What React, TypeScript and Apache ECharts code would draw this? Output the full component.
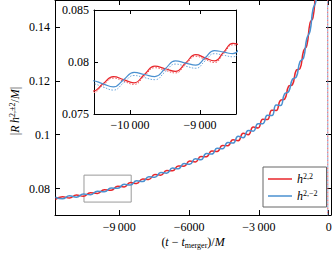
import React, { useEffect, useRef } from "react";
import * as echarts from "echarts";

// ---------- data ----------
const tMain = [
  -11740, -11440, -11140, -10840, -10540, -10240, -9940, -9640, -9350, -9060,
  -8790, -8520, -8255, -7990, -7730, -7470, -7215, -6960, -6710, -6460,
  -6215, -5970, -5730, -5490, -5255, -5020, -4790, -4560, -4335, -4110,
  -3890, -3670, -3455, -3240, -3035, -2830, -2635, -2440, -2255, -2070,
  -1895, -1720, -1555, -1390, -1235, -1080, -940, -800, -675, -550,
  -430, -300, -150, -45,
];
const redMain = [
  0.0760, 0.0770, 0.0765, 0.0776, 0.0772, 0.0785, 0.0782, 0.0796, 0.0794, 0.0809,
  0.0806, 0.0823, 0.0819, 0.0836, 0.0834, 0.0852, 0.0850, 0.0867, 0.0866, 0.0884,
  0.0883, 0.0902, 0.0899, 0.0919, 0.0918, 0.0940, 0.0938, 0.0960, 0.0959, 0.0981,
  0.0978, 0.1005, 0.1000, 0.1029, 0.1025, 0.1057, 0.1056, 0.1091, 0.1090, 0.1128,
  0.1132, 0.1180, 0.1186, 0.1240, 0.1245, 0.1311, 0.1331, 0.1415, 0.1435, 0.1525,
  0.1565, 0.172, 0.19, 0.22,
];
const blueMain = [
  0.0768, 0.0762, 0.0773, 0.0768, 0.0780, 0.0777, 0.0790, 0.0788, 0.0802, 0.0801,
  0.0816, 0.0813, 0.0829, 0.0826, 0.0844, 0.0842, 0.0860, 0.0857, 0.0876, 0.0874,
  0.0893, 0.0890, 0.0911, 0.0907, 0.0930, 0.0928, 0.0950, 0.0948, 0.0971, 0.0969,
  0.0994, 0.0989, 0.1016, 0.1013, 0.1041, 0.1041, 0.1072, 0.1071, 0.1110, 0.1108,
  0.1152, 0.1160, 0.1206, 0.1214, 0.1271, 0.1285, 0.1357, 0.1385, 0.1465, 0.1495,
  0.1595, 0.168, 0.19, 0.22,
];
// merger / ring-down drop
const tDrop = [-45, -35];
const redDrop = [0.22, 0.03];
const blueDrop = [0.22, 0.03];

const tInset = [
  -10682, -10534, -10386, -10238, -10090, -9942, -9794, -9645, -9498, -9352,
  -9206, -9060, -8928, -8795, -8662, -8530, -8400, -8270,
];
const redInset = [
  0.0775, 0.0772, 0.0779, 0.0786, 0.0783, 0.0780, 0.0788, 0.0796, 0.07935, 0.0791,
  0.0799, 0.0807, 0.0804, 0.0801, 0.08095, 0.0818, 0.08155, 0.0813,
];
const blueInset = [
  0.0775, 0.0782, 0.0779, 0.0776, 0.0783, 0.0790, 0.0788, 0.0786, 0.07935, 0.0801,
  0.0799, 0.0797, 0.0804, 0.0811, 0.08095, 0.0808, 0.08155, 0.0823,
];
const redInsetDot = [
  0.07735, 0.07705, 0.07775, 0.07845, 0.07815, 0.07785, 0.07865, 0.07945, 0.0792, 0.07895,
  0.07975, 0.08055, 0.08025, 0.07995, 0.0808, 0.08165, 0.0814, 0.08115,
];
const blueInsetDot = [
  0.0772, 0.0779, 0.0776, 0.0773, 0.0780, 0.0787, 0.0785, 0.0783, 0.07905, 0.0798,
  0.0796, 0.0794, 0.0801, 0.0808, 0.08065, 0.0805, 0.08125, 0.0820,
];

const mainXTicks = [-9000, -6000, -3000, 0];
const mainXTickLabels = ["\u22129\u2009000", "\u22126000", "\u22123\u2009000", "0"];
const mainYTicks = [0.08, 0.1, 0.12, 0.14];
const mainYTickLabels = ["0.08", "0.1", "0.12", "0.14"];
const insetXTicks = [-10000, -9000];
const insetXTickLabels = ["\u221210\u2009000", "\u22129\u2009000"];
const insetYTicks = [0.075, 0.08, 0.085];
const insetYTickLabels = ["0.075", "0.08", "0.085"];

const mainXRange = [-11760, 100];
const mainYRange = [0.0702, 0.15];
const insetXRange = [-10514, -8486];
const insetYRange = [0.075, 0.085];
const zoomBox = [
  [-10514, 0.075],
  [-8486, 0.085],
];

// ---------- styles ----------
const FONT = "Liberation Serif, Times New Roman, serif";
const RED = "#e8262b";
const BLUE = "#4a90d0";
const RED_LIGHT = "#f0595c";
const BLUE_LIGHT = "#6ea7dc";

const pick = (ticks: number[], labels: string[]) => (v: number) => {
  const i = ticks.findIndex((t) => Math.abs(t - v) < 1e-7 * Math.max(1, Math.abs(t)));
  return i >= 0 ? labels[i] : "";
};

function axisBase(
  gridIndex: number,
  position: string,
  range: number[],
  ticks: number[],
  labels: string[] | null,
  tickLen: number,
  margin: number
) {
  return {
    type: "value",
    gridIndex,
    position,
    min: range[0],
    max: range[1],
    scale: true,
    splitLine: { show: false },
    axisLine: { show: true, onZero: false, lineStyle: { color: "#000", width: 1 } },
    axisTick: {
      show: true,
      inside: true,
      length: tickLen,
      customValues: ticks,
      lineStyle: { color: "#000", width: 1 },
    },
    axisLabel: labels
      ? {
          show: true,
          customValues: ticks,
          formatter: pick(ticks, labels),
          fontFamily: FONT,
          fontSize: 12,
          color: "#000",
          margin,
          showMinLabel: true,
          showMaxLabel: true,
        }
      : { show: false },
  };
}

const pairs = (xs: number[], ys: number[]) => xs.map((x, i) => [x, ys[i]]);

export default function App() {
  const ref = useRef<HTMLDivElement>(null);
  useEffect(() => {
    document.body.style.margin = "0";
    if (!ref.current) return;
    const chart = echarts.init(ref.current, undefined, { renderer: "svg" });
    const option: any = {
      animation: false,
      backgroundColor: "#fff",
      textStyle: { fontFamily: FONT },
      grid: [
        { left: 55, top: 0, width: 276, height: 215, containLabel: false },
        {
          left: 94,
          top: 10,
          width: 142,
          height: 104,
          show: true,
          backgroundColor: "#fff",
          borderWidth: 0,
          z: 5,
        },
      ],
      xAxis: [
        axisBase(0, "bottom", mainXRange, mainXTicks, mainXTickLabels, 5, 6),
        axisBase(0, "top", mainXRange, mainXTicks, null, 5, 6),
        { ...axisBase(1, "bottom", insetXRange, insetXTicks, insetXTickLabels, 4, 5), z: 6 },
        { ...axisBase(1, "top", insetXRange, insetXTicks, null, 4, 5), z: 6 },
      ],
      yAxis: [
        axisBase(0, "left", mainYRange, mainYTicks, mainYTickLabels, 5, 5),
        axisBase(0, "right", mainYRange, mainYTicks, null, 5, 5),
        { ...axisBase(1, "left", insetYRange, insetYTicks, insetYTickLabels, 4, 5), z: 6 },
        { ...axisBase(1, "right", insetYRange, insetYTicks, null, 4, 5), z: 6 },
      ],
      legend: {
        orient: "vertical",
        left: 263,
        top: 167,
        data: ["h22", "h2m2"],
        icon: "rect",
        itemWidth: 24,
        itemHeight: 1.5,
        itemGap: 4,
        itemStyle: { borderWidth: 0 },
        backgroundColor: "#fff",
        borderColor: "#666",
        borderWidth: 1,
        borderRadius: 0,
        padding: [5, 9, 5, 5],
        formatter: (n: string) => (n === "h22" ? "{i|h}{s|2,2}" : "{i|h}{s|2,\u22122}"),
        textStyle: {
          fontFamily: FONT,
          color: "#000",
          rich: {
            i: { fontFamily: FONT, fontStyle: "italic", fontSize: 12, color: "#000" },
            s: { fontFamily: FONT, fontSize: 8, color: "#000", padding: [0, 0, 6, 0] },
          },
        },
      },
      series: [
        {
          name: "h22",
          type: "line",
          xAxisIndex: 0,
          yAxisIndex: 0,
          data: pairs(tMain, redMain),
          showSymbol: false,
          smooth: 0.5,
          clip: true,
          lineStyle: { color: RED, width: 1.5 },
          itemStyle: { color: RED },
          markArea: {
            silent: true,
            itemStyle: { color: "rgba(0,0,0,0)", borderColor: "#9a9a9a", borderWidth: 1 },
            data: [[{ coord: zoomBox[0] }, { coord: zoomBox[1] }]],
          },
        },
        {
          name: "h2m2",
          type: "line",
          xAxisIndex: 0,
          yAxisIndex: 0,
          data: pairs(tMain, blueMain),
          showSymbol: false,
          smooth: 0.5,
          clip: true,
          lineStyle: { color: BLUE, width: 1.5 },
          itemStyle: { color: BLUE },
        },
        {
          name: "h22drop",
          type: "line",
          xAxisIndex: 0,
          yAxisIndex: 0,
          data: pairs(tDrop, redDrop),
          showSymbol: false,
          clip: true,
          lineStyle: { color: RED_LIGHT, width: 1, type: [2, 2] },
          itemStyle: { color: RED_LIGHT },
        },
        {
          name: "h2m2drop",
          type: "line",
          xAxisIndex: 0,
          yAxisIndex: 0,
          data: pairs(tDrop, blueDrop),
          showSymbol: false,
          clip: true,
          lineStyle: { color: BLUE_LIGHT, width: 1, type: [2, 2], dashOffset: 2 },
          itemStyle: { color: BLUE_LIGHT },
        },
        {
          name: "h22dot",
          type: "line",
          xAxisIndex: 2,
          yAxisIndex: 2,
          data: pairs(tInset, redInsetDot),
          showSymbol: false,
          smooth: 0.5,
          clip: true,
          z: 7,
          lineStyle: { color: RED_LIGHT, width: 1, type: [1.5, 1.5] },
          itemStyle: { color: RED_LIGHT },
        },
        {
          name: "h2m2dot",
          type: "line",
          xAxisIndex: 2,
          yAxisIndex: 2,
          data: pairs(tInset, blueInsetDot),
          showSymbol: false,
          smooth: 0.5,
          clip: true,
          z: 7,
          lineStyle: { color: BLUE_LIGHT, width: 1, type: [1.5, 1.5] },
          itemStyle: { color: BLUE_LIGHT },
        },
        {
          name: "h22",
          type: "line",
          xAxisIndex: 2,
          yAxisIndex: 2,
          data: pairs(tInset, redInset),
          showSymbol: false,
          smooth: 0.5,
          clip: true,
          z: 8,
          lineStyle: { color: RED, width: 1.2 },
          itemStyle: { color: RED },
        },
        {
          name: "h2m2",
          type: "line",
          xAxisIndex: 2,
          yAxisIndex: 2,
          data: pairs(tInset, blueInset),
          showSymbol: false,
          smooth: 0.5,
          clip: true,
          z: 8,
          lineStyle: { color: BLUE, width: 1.2 },
          itemStyle: { color: BLUE },
        },
      ],
      graphic: [
        {
          type: "text",
          x: 193,
          y: 242,
          style: {
            text: "{n|(}{i|t}{n| \u2212 }{i|t}{s|merger}{n|)/}{i|M}",
            textAlign: "center",
            textVerticalAlign: "middle",
            fill: "#000",
            rich: {
              n: { fontFamily: FONT, fontSize: 12, fill: "#000" },
              i: { fontFamily: FONT, fontSize: 12, fontStyle: "italic", fill: "#000" },
              s: { fontFamily: FONT, fontSize: 8, fill: "#000", padding: [6, 0, 0, 0] },
            },
          },
        },
        {
          type: "text",
          x: 15,
          y: 111,
          rotation: Math.PI / 2,
          style: {
            text: "{n||}{i|R\u2009h}{s|2,\u00b12}{n|/}{i|M}{n||}",
            textAlign: "center",
            textVerticalAlign: "middle",
            fill: "#000",
            rich: {
              n: { fontFamily: FONT, fontSize: 12, fill: "#000" },
              i: { fontFamily: FONT, fontSize: 12, fontStyle: "italic", fill: "#000" },
              s: { fontFamily: FONT, fontSize: 8, fill: "#000", padding: [0, 0, 6, 0] },
            },
          },
        },
      ],
    };
    chart.setOption(option);
    return () => chart.dispose();
  }, []);
  return <div ref={ref} style={{ width: 336, height: 253 }} />;
}
